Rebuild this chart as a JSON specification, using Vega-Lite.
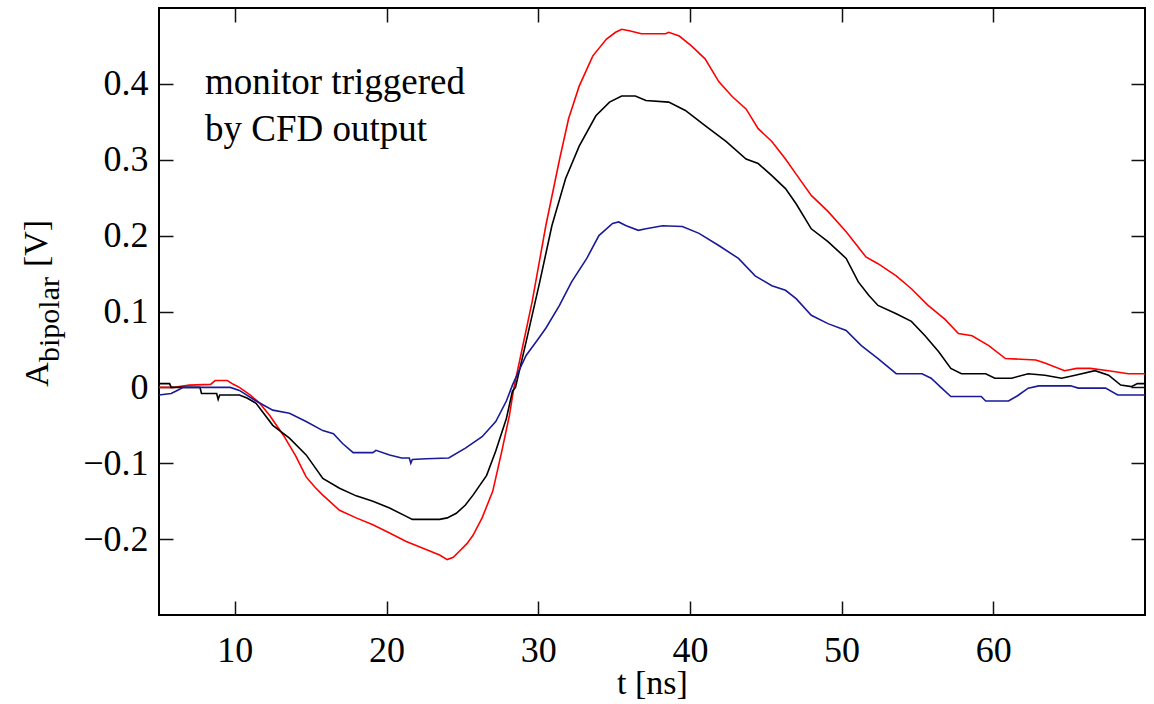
{
  "$schema": "https://vega.github.io/schema/vega-lite/v6.json",
  "width": 986,
  "height": 607,
  "autosize": "none",
  "padding": {"left": 159, "top": 8, "right": 9, "bottom": 89},
  "background": "#ffffff",
  "config": {
    "view": {"stroke": "#000000", "strokeWidth": 2},
    "font": "Liberation Serif",
    "axis": {
      "labelFont": "Liberation Serif",
      "titleFont": "Liberation Serif",
      "labelColor": "#000000",
      "titleColor": "#000000",
      "tickColor": "#111111",
      "tickWidth": 1.5,
      "titleFontWeight": "normal",
      "grid": false,
      "domain": false,
      "labelOverlap": false,
      "labelFlush": false
    }
  },
  "datasets": {
    "curves": [
      {"s": "r", "t": 5.0, "v": 0.000}, {"s": "r", "t": 6.0, "v": 0.000}, {"s": "r", "t": 7.0, "v": 0.003}, {"s": "r", "t": 8.4, "v": 0.004},
      {"s": "r", "t": 8.7, "v": 0.009}, {"s": "r", "t": 9.5, "v": 0.009}, {"s": "r", "t": 9.9, "v": 0.004}, {"s": "r", "t": 10.3, "v": 0.000},
      {"s": "r", "t": 11.0, "v": -0.010}, {"s": "r", "t": 11.6, "v": -0.020}, {"s": "r", "t": 12.3, "v": -0.037}, {"s": "r", "t": 13.2, "v": -0.063},
      {"s": "r", "t": 14.0, "v": -0.090}, {"s": "r", "t": 14.7, "v": -0.118}, {"s": "r", "t": 15.3, "v": -0.132}, {"s": "r", "t": 15.8, "v": -0.142},
      {"s": "r", "t": 16.9, "v": -0.162}, {"s": "r", "t": 18.0, "v": -0.172}, {"s": "r", "t": 19.1, "v": -0.181}, {"s": "r", "t": 20.2, "v": -0.192},
      {"s": "r", "t": 21.3, "v": -0.203}, {"s": "r", "t": 22.4, "v": -0.212}, {"s": "r", "t": 23.5, "v": -0.221}, {"s": "r", "t": 24.0, "v": -0.227},
      {"s": "r", "t": 24.4, "v": -0.224}, {"s": "r", "t": 24.8, "v": -0.216}, {"s": "r", "t": 25.3, "v": -0.206}, {"s": "r", "t": 25.7, "v": -0.195},
      {"s": "r", "t": 26.3, "v": -0.172}, {"s": "r", "t": 27.0, "v": -0.137}, {"s": "r", "t": 27.6, "v": -0.084}, {"s": "r", "t": 28.1, "v": -0.037},
      {"s": "r", "t": 28.4, "v": 0.000}, {"s": "r", "t": 28.9, "v": 0.047}, {"s": "r", "t": 29.6, "v": 0.113}, {"s": "r", "t": 30.5, "v": 0.213},
      {"s": "r", "t": 31.4, "v": 0.300}, {"s": "r", "t": 32.0, "v": 0.354}, {"s": "r", "t": 32.7, "v": 0.397}, {"s": "r", "t": 33.6, "v": 0.437},
      {"s": "r", "t": 34.5, "v": 0.459}, {"s": "r", "t": 35.1, "v": 0.468}, {"s": "r", "t": 35.5, "v": 0.472}, {"s": "r", "t": 36.0, "v": 0.470},
      {"s": "r", "t": 36.8, "v": 0.466}, {"s": "r", "t": 38.4, "v": 0.466}, {"s": "r", "t": 38.6, "v": 0.468}, {"s": "r", "t": 39.3, "v": 0.463},
      {"s": "r", "t": 40.1, "v": 0.450}, {"s": "r", "t": 41.0, "v": 0.433}, {"s": "r", "t": 41.9, "v": 0.403}, {"s": "r", "t": 42.8, "v": 0.383},
      {"s": "r", "t": 43.7, "v": 0.367}, {"s": "r", "t": 44.5, "v": 0.341}, {"s": "r", "t": 45.4, "v": 0.324}, {"s": "r", "t": 46.3, "v": 0.301},
      {"s": "r", "t": 47.0, "v": 0.281}, {"s": "r", "t": 48.0, "v": 0.253}, {"s": "r", "t": 49.1, "v": 0.232}, {"s": "r", "t": 50.3, "v": 0.205},
      {"s": "r", "t": 51.6, "v": 0.172}, {"s": "r", "t": 52.4, "v": 0.163}, {"s": "r", "t": 53.6, "v": 0.147}, {"s": "r", "t": 54.6, "v": 0.130},
      {"s": "r", "t": 55.7, "v": 0.108}, {"s": "r", "t": 56.8, "v": 0.090}, {"s": "r", "t": 57.7, "v": 0.071}, {"s": "r", "t": 58.6, "v": 0.068},
      {"s": "r", "t": 59.7, "v": 0.055}, {"s": "r", "t": 60.8, "v": 0.038}, {"s": "r", "t": 62.8, "v": 0.036}, {"s": "r", "t": 63.4, "v": 0.032},
      {"s": "r", "t": 64.7, "v": 0.022}, {"s": "r", "t": 65.5, "v": 0.025}, {"s": "r", "t": 66.4, "v": 0.025}, {"s": "r", "t": 67.6, "v": 0.022},
      {"s": "r", "t": 68.9, "v": 0.018}, {"s": "r", "t": 70.0, "v": 0.018},

      {"s": "k", "t": 5.0, "v": 0.005}, {"s": "k", "t": 5.7, "v": 0.005}, {"s": "k", "t": 5.8, "v": 0.000}, {"s": "k", "t": 7.7, "v": 0.000},
      {"s": "k", "t": 7.8, "v": -0.008}, {"s": "k", "t": 8.8, "v": -0.008}, {"s": "k", "t": 8.9, "v": -0.016}, {"s": "k", "t": 9.0, "v": -0.010},
      {"s": "k", "t": 10.3, "v": -0.010}, {"s": "k", "t": 10.8, "v": -0.014}, {"s": "k", "t": 11.4, "v": -0.021}, {"s": "k", "t": 12.5, "v": -0.050},
      {"s": "k", "t": 13.6, "v": -0.067}, {"s": "k", "t": 14.7, "v": -0.089}, {"s": "k", "t": 15.8, "v": -0.120}, {"s": "k", "t": 16.9, "v": -0.133},
      {"s": "k", "t": 18.0, "v": -0.143}, {"s": "k", "t": 19.1, "v": -0.150}, {"s": "k", "t": 20.2, "v": -0.159}, {"s": "k", "t": 21.3, "v": -0.170},
      {"s": "k", "t": 21.7, "v": -0.174}, {"s": "k", "t": 23.5, "v": -0.174}, {"s": "k", "t": 24.0, "v": -0.172}, {"s": "k", "t": 24.6, "v": -0.166},
      {"s": "k", "t": 25.2, "v": -0.155}, {"s": "k", "t": 25.7, "v": -0.142}, {"s": "k", "t": 26.6, "v": -0.116}, {"s": "k", "t": 27.2, "v": -0.084},
      {"s": "k", "t": 27.9, "v": -0.041}, {"s": "k", "t": 28.3, "v": -0.005}, {"s": "k", "t": 28.5, "v": 0.000}, {"s": "k", "t": 29.2, "v": 0.060},
      {"s": "k", "t": 30.1, "v": 0.139}, {"s": "k", "t": 30.9, "v": 0.213}, {"s": "k", "t": 31.8, "v": 0.275}, {"s": "k", "t": 32.7, "v": 0.318},
      {"s": "k", "t": 33.8, "v": 0.358}, {"s": "k", "t": 34.7, "v": 0.376}, {"s": "k", "t": 35.5, "v": 0.384}, {"s": "k", "t": 36.4, "v": 0.384},
      {"s": "k", "t": 37.1, "v": 0.378}, {"s": "k", "t": 38.6, "v": 0.376}, {"s": "k", "t": 39.7, "v": 0.365}, {"s": "k", "t": 41.0, "v": 0.345},
      {"s": "k", "t": 42.4, "v": 0.324}, {"s": "k", "t": 43.7, "v": 0.301}, {"s": "k", "t": 44.5, "v": 0.295}, {"s": "k", "t": 45.4, "v": 0.279},
      {"s": "k", "t": 46.3, "v": 0.262}, {"s": "k", "t": 47.0, "v": 0.242}, {"s": "k", "t": 48.0, "v": 0.209}, {"s": "k", "t": 49.1, "v": 0.192},
      {"s": "k", "t": 50.3, "v": 0.170}, {"s": "k", "t": 51.1, "v": 0.139}, {"s": "k", "t": 51.8, "v": 0.121}, {"s": "k", "t": 52.4, "v": 0.108},
      {"s": "k", "t": 53.6, "v": 0.097}, {"s": "k", "t": 54.6, "v": 0.087}, {"s": "k", "t": 55.5, "v": 0.068}, {"s": "k", "t": 56.4, "v": 0.047},
      {"s": "k", "t": 57.2, "v": 0.025}, {"s": "k", "t": 57.9, "v": 0.018}, {"s": "k", "t": 59.5, "v": 0.018}, {"s": "k", "t": 60.1, "v": 0.012},
      {"s": "k", "t": 61.2, "v": 0.012}, {"s": "k", "t": 62.3, "v": 0.018}, {"s": "k", "t": 63.4, "v": 0.016}, {"s": "k", "t": 64.5, "v": 0.012},
      {"s": "k", "t": 65.4, "v": 0.016}, {"s": "k", "t": 66.7, "v": 0.022}, {"s": "k", "t": 67.6, "v": 0.016}, {"s": "k", "t": 68.4, "v": 0.003},
      {"s": "k", "t": 69.1, "v": 0.001}, {"s": "k", "t": 69.5, "v": 0.005}, {"s": "k", "t": 70.0, "v": 0.005},

      {"s": "b", "t": 5.0, "v": -0.010}, {"s": "b", "t": 5.8, "v": -0.008}, {"s": "b", "t": 6.2, "v": -0.004}, {"s": "b", "t": 6.6, "v": 0.000},
      {"s": "b", "t": 9.7, "v": 0.000}, {"s": "b", "t": 10.3, "v": -0.004}, {"s": "b", "t": 11.4, "v": -0.018}, {"s": "b", "t": 12.5, "v": -0.030},
      {"s": "b", "t": 13.6, "v": -0.034}, {"s": "b", "t": 14.7, "v": -0.045}, {"s": "b", "t": 15.8, "v": -0.057}, {"s": "b", "t": 16.5, "v": -0.061},
      {"s": "b", "t": 17.1, "v": -0.074}, {"s": "b", "t": 17.8, "v": -0.086}, {"s": "b", "t": 19.1, "v": -0.086}, {"s": "b", "t": 19.3, "v": -0.083},
      {"s": "b", "t": 20.2, "v": -0.089}, {"s": "b", "t": 21.0, "v": -0.093}, {"s": "b", "t": 21.5, "v": -0.093}, {"s": "b", "t": 21.6, "v": -0.100},
      {"s": "b", "t": 21.7, "v": -0.095}, {"s": "b", "t": 22.6, "v": -0.094}, {"s": "b", "t": 24.1, "v": -0.093}, {"s": "b", "t": 25.2, "v": -0.080},
      {"s": "b", "t": 26.3, "v": -0.065}, {"s": "b", "t": 27.2, "v": -0.045}, {"s": "b", "t": 27.9, "v": -0.018}, {"s": "b", "t": 28.3, "v": 0.003},
      {"s": "b", "t": 28.5, "v": 0.012}, {"s": "b", "t": 29.2, "v": 0.042}, {"s": "b", "t": 29.9, "v": 0.061}, {"s": "b", "t": 30.5, "v": 0.078},
      {"s": "b", "t": 31.4, "v": 0.108}, {"s": "b", "t": 32.2, "v": 0.139}, {"s": "b", "t": 33.2, "v": 0.170}, {"s": "b", "t": 34.0, "v": 0.200},
      {"s": "b", "t": 34.9, "v": 0.216}, {"s": "b", "t": 35.3, "v": 0.218}, {"s": "b", "t": 35.8, "v": 0.213}, {"s": "b", "t": 36.6, "v": 0.207},
      {"s": "b", "t": 37.1, "v": 0.209}, {"s": "b", "t": 38.2, "v": 0.213}, {"s": "b", "t": 39.5, "v": 0.212}, {"s": "b", "t": 40.6, "v": 0.203},
      {"s": "b", "t": 41.9, "v": 0.187}, {"s": "b", "t": 43.2, "v": 0.170}, {"s": "b", "t": 44.3, "v": 0.147}, {"s": "b", "t": 45.4, "v": 0.134},
      {"s": "b", "t": 46.3, "v": 0.128}, {"s": "b", "t": 47.0, "v": 0.117}, {"s": "b", "t": 48.0, "v": 0.095}, {"s": "b", "t": 49.1, "v": 0.084},
      {"s": "b", "t": 50.3, "v": 0.075}, {"s": "b", "t": 51.3, "v": 0.055}, {"s": "b", "t": 52.4, "v": 0.038}, {"s": "b", "t": 53.6, "v": 0.018},
      {"s": "b", "t": 55.3, "v": 0.018}, {"s": "b", "t": 55.9, "v": 0.012}, {"s": "b", "t": 56.6, "v": -0.001}, {"s": "b", "t": 57.2, "v": -0.012},
      {"s": "b", "t": 59.2, "v": -0.012}, {"s": "b", "t": 59.5, "v": -0.018}, {"s": "b", "t": 61.0, "v": -0.018}, {"s": "b", "t": 61.6, "v": -0.011},
      {"s": "b", "t": 62.3, "v": -0.001}, {"s": "b", "t": 63.0, "v": 0.002}, {"s": "b", "t": 65.1, "v": 0.002}, {"s": "b", "t": 65.6, "v": -0.001},
      {"s": "b", "t": 67.4, "v": -0.001}, {"s": "b", "t": 68.2, "v": -0.010}, {"s": "b", "t": 70.0, "v": -0.010}
    ]
  },
  "layer": [
    {
      "data": {"name": "curves"},
      "mark": {"type": "line", "strokeWidth": 1.6, "clip": true},
      "encoding": {
        "x": {
          "field": "t", "type": "quantitative",
          "scale": {"domain": [5, 70], "nice": false, "zero": false},
          "axis": {
            "orient": "bottom", "values": [10, 20, 30, 40, 50, 60],
            "tickSize": -14, "labelPadding": 32, "labelFontSize": 36,
            "title": "t [ns]", "titleFontSize": 34, "titleX": 493, "titleY": 78,
            "titleAlign": "center", "titleBaseline": "alphabetic"
          }
        },
        "y": {
          "field": "v", "type": "quantitative",
          "scale": {"domain": [-0.3, 0.5], "nice": false, "zero": false},
          "axis": {
            "orient": "left", "values": [-0.2, -0.1, 0, 0.1, 0.2, 0.3, 0.4], "format": ".1~f",
            "tickSize": -14, "labelPadding": 25, "labelFontSize": 36,
            "title": "A", "titleFontSize": 34, "titleAngle": -90, "titleX": -112, "titleY": 366,
            "titleAlign": "center", "titleBaseline": "alphabetic"
          }
        },
        "color": {
          "field": "s", "type": "nominal",
          "scale": {"domain": ["r", "k", "b"], "range": ["#ff0000", "#000000", "#1a1a99"]},
          "legend": null
        }
      }
    },
    {
      "mark": {"type": "rule", "color": "#000000", "strokeWidth": 1.5},
      "encoding": {
        "y": {
          "datum": 0, "type": "quantitative",
          "scale": {"domain": [-0.3, 0.5], "nice": false, "zero": false},
          "axis": {
            "orient": "right", "values": [-0.2, -0.1, 0, 0.1, 0.2, 0.3, 0.4],
            "labels": false, "tickSize": -14, "title": null
          }
        }
      }
    },
    {
      "data": {"values": [{"t": 8.03, "v": 0.387, "label": "monitor triggered"}]},
      "mark": {"type": "text", "align": "left", "baseline": "alphabetic", "fontSize": 37, "font": "Liberation Serif", "color": "#000000"},
      "encoding": {
        "x": {
          "field": "t", "type": "quantitative",
          "scale": {"domain": [5, 70], "nice": false, "zero": false},
          "axis": {"orient": "top", "values": [10, 20, 30, 40, 50, 60], "labels": false, "tickSize": -14, "title": null}
        },
        "y": {
          "field": "v", "type": "quantitative",
          "scale": {"domain": [-0.3, 0.5], "nice": false, "zero": false},
          "axis": {
            "orient": "left", "labels": false, "ticks": false, "values": [0],
            "title": "bipolar", "titleFontSize": 30, "titleAngle": -90, "titleX": -101, "titleY": 311,
            "titleAlign": "center", "titleBaseline": "alphabetic"
          }
        },
        "text": {"field": "label"}
      }
    },
    {
      "data": {"values": [{"t": 8.03, "v": 0.325, "label": "by CFD output"}]},
      "mark": {"type": "text", "align": "left", "baseline": "alphabetic", "fontSize": 37, "font": "Liberation Serif", "color": "#000000"},
      "encoding": {
        "x": {
          "field": "t", "type": "quantitative",
          "scale": {"domain": [5, 70], "nice": false, "zero": false},
          "axis": null
        },
        "y": {
          "field": "v", "type": "quantitative",
          "scale": {"domain": [-0.3, 0.5], "nice": false, "zero": false},
          "axis": {
            "orient": "left", "labels": false, "ticks": false, "values": [0],
            "title": "[V]", "titleFontSize": 34, "titleAngle": -90, "titleX": -113, "titleY": 235,
            "titleAlign": "center", "titleBaseline": "alphabetic"
          }
        },
        "text": {"field": "label"}
      }
    }
  ],
  "resolve": {"axis": {"x": "independent", "y": "independent"}}
}
